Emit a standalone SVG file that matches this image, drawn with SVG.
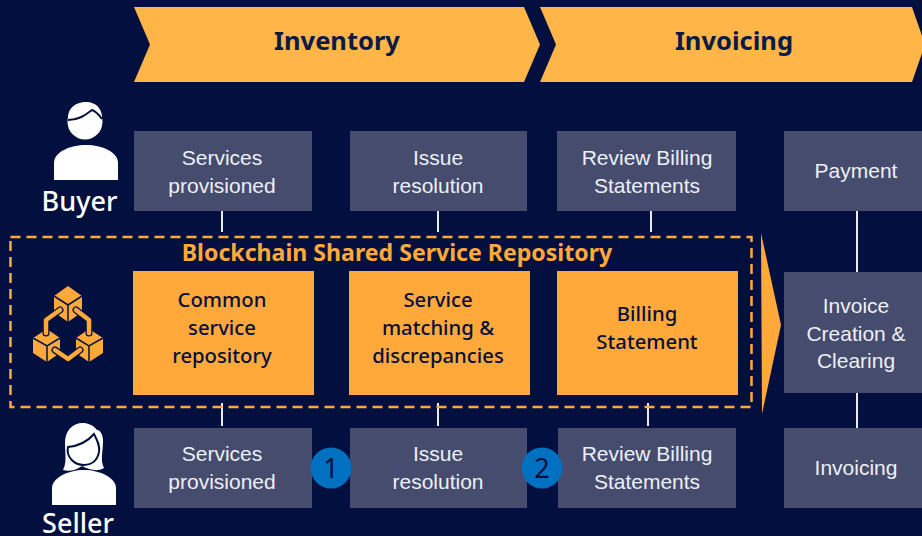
<svg xmlns="http://www.w3.org/2000/svg" width="922" height="536" viewBox="0 0 922 536">
<style>
.bg{fill:#03103f}
.box{fill:#454c6e}
.or{fill:#ffa93a}
.chev{fill:#ffb547}
.t{font-family:"Liberation Sans",Arial,sans-serif;font-size:21px;fill:#eef0f5;text-anchor:middle}
.o{font-family:"Noto Sans","Open Sans",sans-serif;font-size:20.300px;font-weight:500;fill:#03103f;text-anchor:middle}
.h{font-family:"Noto Sans","Open Sans",sans-serif;font-size:25.500px;font-weight:700;fill:#0a1c45;text-anchor:middle}
.p{font-family:"Noto Sans","Open Sans",sans-serif;font-size:27px;font-weight:500;fill:#fff;text-anchor:middle}
.n{font-family:"Noto Sans","Open Sans",sans-serif;font-size:27px;fill:#03103f;text-anchor:middle}
.c{fill:#0070c0}
.ln{stroke:#e8eaf0;stroke-width:2;fill:none}
.cube{fill:#ffa93a}
.edge{fill:none;stroke:#03103f;stroke-width:1.500}
.halo{fill:none;stroke:#03103f;stroke-width:7;stroke-linecap:round;stroke-linejoin:round}
.link{fill:none;stroke:#ffa93a;stroke-width:4.500;stroke-linecap:round;stroke-linejoin:round}
</style>
<rect class="bg" width="922" height="536"/>
<g id="connectors">
<path class="ln" d="M222 211V232M438 211V232M651 211V232M857 211V272M857 393V428M222 403V426M438 403V426M648 403V426"/>
</g>
<g id="phase-inventory"><path class="chev" d="M134 7H524L540 44.500L524 82H134L150 44.500Z"/><text class="h" x="337" y="49.500">Inventory</text></g>
<g id="phase-invoicing"><path class="chev" d="M540 7H912L925 44.500L912 82H540L556 44.500Z"/><text class="h" x="734" y="49.500">Invoicing</text></g>
<g id="buyer">
<circle cx="85" cy="122" r="17.500" fill="#fff"/>
<path fill="#fff" d="M68 120C67 108 76 102 86 102C97 102 103 110 102 120L93 112L84 118Z"/>
<path fill="none" stroke="#03103f" stroke-width="2" d="M68 120C78 120 84 116 92 110C96 111 99 115 102 119"/>
<path fill="#fff" d="M54 180V163C54 152 70 145 86 145C102 145 118 152 118 163V180Z"/>
<text class="p" x="79.500" y="211">Buyer</text>
</g>
<g id="b1"><rect class="box" x="134" y="131" width="178" height="80"/><text class="t" x="222" y="165">Services</text><text class="t" x="222" y="193">provisioned</text></g>
<g id="b2"><rect class="box" x="350" y="131" width="177" height="80"/><text class="t" x="438" y="165">Issue</text><text class="t" x="438" y="193">resolution</text></g>
<g id="b3"><rect class="box" x="557" y="131" width="179" height="80"/><text class="t" x="647" y="165">Review Billing</text><text class="t" x="647" y="193">Statements</text></g>
<g id="b4"><rect class="box" x="784" y="131" width="138" height="80"/><text class="t" x="856" y="178">Payment</text></g>
<g id="repository">
<rect x="10.500" y="237" width="741" height="170" fill="none" stroke="#ffa93a" stroke-width="2.500" stroke-dasharray="10 6"/>
<text x="397" y="261" font-family="'Noto Sans','Open Sans',sans-serif" font-size="23.100" font-weight="700" fill="#ffa93a" text-anchor="middle">Blockchain Shared Service Repository</text>
</g>
<g id="blockchain-icon">
<path class="cube" d="M68 286L82 296V312L68 322L54 312V296Z"/><path class="edge" d="M54 296L68 305L82 296M68 305V322"/>
<path class="cube" d="M47 329L60 338V353L47 362L33 353V338Z"/><path class="edge" d="M33 338L47 346L60 338M47 346V362"/>
<path class="cube" d="M89 329L103 338V353L89 362L76 353V338Z"/><path class="edge" d="M76 338L89 346L103 338M89 346V362"/>
<path class="halo" d="M60 310L46 320V333M76 310L89 320V333M55 350L68 359L80 350"/>
<path class="link" d="M60 310L46 320V333M76 310L89 320V333M55 350L68 359L80 350"/>
</g>
<g id="o1"><rect class="or" x="133" y="271" width="181" height="124"/><text class="o" x="222" y="307">Common</text><text class="o" x="222" y="335">service</text><text class="o" x="222" y="363">repository</text></g>
<g id="o2"><rect class="or" x="349" y="271" width="181" height="124"/><text class="o" x="438" y="307">Service</text><text class="o" x="438" y="335">matching &amp;</text><text class="o" x="438" y="363">discrepancies</text></g>
<g id="o3"><rect class="or" x="557" y="271" width="181" height="124"/><text class="o" x="647" y="321">Billing</text><text class="o" x="647" y="349">Statement</text></g>
<g id="flow-arrow"><path class="or" d="M761 233L781 325L762 414Z"/></g>
<g id="b5"><rect class="box" x="784" y="272" width="138" height="121"/><text class="t" x="856" y="313">Invoice</text><text class="t" x="856" y="341">Creation &amp;</text><text class="t" x="856" y="368">Clearing</text></g>
<g id="seller">
<path fill="#fff" d="M83 423C72 423 65 431 65 443C65 455 67 462 63 470C70 472 76 470 82 466C90 470 97 472 104 468C100 460 103 452 103 441C103 436 101 430 97 430C93 425 88 423 83 423Z"/>
<path fill="#fff" stroke="#03103f" stroke-width="2" d="M68 447C78 446 88 441 94 434C97 440 100 445 99 452C97 462 90 465 84 465C74 465 66 457 68 447Z"/>
<path fill="#fff" d="M52 505V488C52 478 68 470 84 470C100 470 116 478 116 488V505Z"/>
<text class="p" x="78" y="532.500">Seller</text>
</g>
<g id="s1"><rect class="box" x="134" y="428" width="178" height="80"/><text class="t" x="222" y="461">Services</text><text class="t" x="222" y="489">provisioned</text></g>
<g id="s2"><rect class="box" x="350" y="428" width="177" height="80"/><text class="t" x="438" y="461">Issue</text><text class="t" x="438" y="489">resolution</text></g>
<g id="s3"><rect class="box" x="558" y="428" width="178" height="80"/><text class="t" x="647" y="461">Review Billing</text><text class="t" x="647" y="489">Statements</text></g>
<g id="s4"><rect class="box" x="784" y="428" width="138" height="80"/><text class="t" x="856" y="475">Invoicing</text></g>
<g id="step1"><circle class="c" cx="331" cy="468" r="20.500"/><text class="n" x="331" y="478">1</text></g>
<g id="step2"><circle class="c" cx="542" cy="468" r="20.500"/><text class="n" x="542" y="478">2</text></g>
</svg>
